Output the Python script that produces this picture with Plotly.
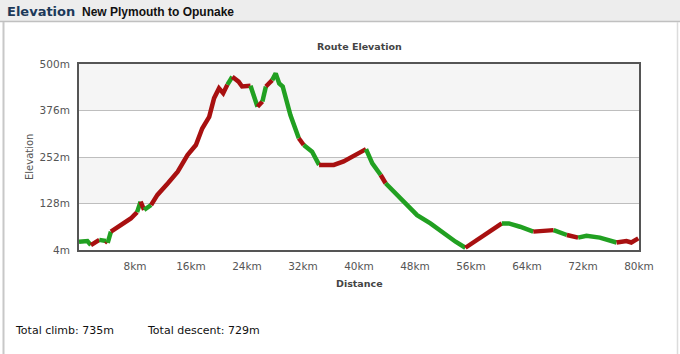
import plotly.graph_objects as go

# ---- data ----
distance_km = [0.0, 1.2, 1.7, 2.9, 3.85, 4.1, 4.56, 6.0, 7.4, 8.3, 8.8, 9.3, 10.3, 11.2,
               12.7, 14.1, 15.5, 16.7, 17.6, 18.6, 19.3, 20.0, 20.6, 21.2, 21.9, 22.8,
               23.3, 24.5, 25.5, 26.2, 26.7, 27.6, 28.1, 28.6, 29.1, 30.2, 31.4, 32.1,
               33.3, 34.3, 36.4, 37.8, 41.0, 41.9, 43.1, 43.8, 45.9, 48.3, 50.2, 52.1,
               53.8, 55.2, 56.9, 58.8, 60.4, 61.4, 63.0, 64.9, 67.8, 69.7, 71.3, 72.5,
               74.4, 76.8, 78.2, 78.9, 79.9]
elevation_m = [26, 28, 17, 31, 28, 23, 53, 71, 88, 105, 133, 111, 124, 151,
               182, 213, 257, 284, 328, 359, 409, 435, 422, 445, 466, 453,
               440, 442, 386, 400, 440, 457, 475, 448, 440, 364, 302, 284,
               266, 231, 231, 240, 273, 235, 204, 182, 142, 97, 75, 48,
               26, 10, 31, 57, 75, 75, 66, 53, 57, 44, 37, 42,
               37, 24, 28, 24, 35]
# trend of each segment (between point i and i+1)
segment_trend = ["G", "G", "R", "G", "R", "G", "R", "R", "R", "G", "R", "G", "R",
                 "R", "R", "R", "R", "R", "R", "R", "R", "R", "R", "G", "R",
                 "R", "R", "G", "R", "G", "R", "G", "G", "G", "G", "G", "R",
                 "G", "G", "R", "R", "R", "G", "G", "R", "G", "G", "G", "G",
                 "G", "G", "R", "R", "R", "G", "G", "G", "R", "G", "R", "G",
                 "G", "G", "R", "R", "R"]
y_ticks = [4, 128, 252, 376, 500]
x_ticks = [8, 16, 24, 32, 40, 48, 56, 64, 72, 80]
total_climb = "735m"
total_descent = "729m"

COLORS = {"R": "#a81010", "G": "#21a021"}

fig = go.Figure()

# group consecutive segments of the same colour
groups = []
start = 0
for i in range(1, len(segment_trend) + 1):
    if i == len(segment_trend) or segment_trend[i] != segment_trend[start]:
        groups.append((start, i, segment_trend[start]))
        start = i
for s, e, c in groups:
    fig.add_trace(go.Scatter(
        x=distance_km[s:e + 1], y=elevation_m[s:e + 1], mode="lines",
        line=dict(color=COLORS[c], width=4.5), hoverinfo="skip", showlegend=False))

# pixel helpers for decorations
L, R, T, B = 79, 639, 64, 250
def px(x):
    return (x - L) / (R - L)
def py(y):
    return (B - y) / (B - T)

shapes = []
# alternating bands
for lo, hi in [(128, 252), (376, 500)]:
    shapes.append(dict(type="rect", xref="paper", yref="y", x0=0, x1=1, y0=lo, y1=hi,
                       fillcolor="#f5f5f5", line_width=0, layer="below"))
# header bar
shapes.append(dict(type="rect", xref="paper", yref="paper", x0=px(0), x1=px(680),
                   y0=py(21), y1=py(0), fillcolor="#ededed", line_width=0, layer="below"))
shapes.append(dict(type="line", xref="paper", yref="paper", x0=px(0), x1=px(680),
                   y0=py(21.5), y1=py(21.5), line=dict(color="#c0c0c0", width=1.5)))
# side borders
shapes.append(dict(type="line", xref="paper", yref="paper", x0=px(3.5), x1=px(3.5),
                   y0=py(22), y1=py(354), line=dict(color="#c8c8c8", width=2)))
shapes.append(dict(type="line", xref="paper", yref="paper", x0=px(677.5), x1=px(677.5),
                   y0=py(22), y1=py(354), line=dict(color="#dcdcdc", width=1.5)))

annotations = [
    dict(text="<b>Elevation</b>", x=px(5), y=py(11), xref="paper", yref="paper",
         xanchor="left", yanchor="middle", showarrow=False,
         font=dict(family="DejaVu Sans", size=13, color="#1d3a5a")),
    dict(text="<b>New Plymouth to Opunake</b>", x=px(80), y=py(12), xref="paper", yref="paper",
         xanchor="left", yanchor="middle", showarrow=False,
         font=dict(family="Liberation Sans", size=12, color="#111111")),
    dict(text="<b>Route Elevation</b>", x=px(359), y=py(46), xref="paper", yref="paper",
         xanchor="center", yanchor="middle", showarrow=False,
         font=dict(family="DejaVu Sans", size=9.5, color="#444444")),
    dict(text="<b>Distance</b>", x=px(359), y=py(283), xref="paper", yref="paper",
         xanchor="center", yanchor="middle", showarrow=False,
         font=dict(family="DejaVu Sans", size=9.5, color="#444444")),
    dict(text="Elevation", x=px(29), y=py(157), xref="paper", yref="paper",
         xanchor="center", yanchor="middle", showarrow=False, textangle=-90,
         font=dict(family="DejaVu Sans", size=10, color="#555555")),
    dict(text="Total climb: " + total_climb, x=px(13), y=py(330), xref="paper", yref="paper",
         xanchor="left", yanchor="middle", showarrow=False,
         font=dict(family="DejaVu Sans", size=11, color="#111111")),
    dict(text="Total descent: " + total_descent, x=px(145), y=py(330), xref="paper", yref="paper",
         xanchor="left", yanchor="middle", showarrow=False,
         font=dict(family="DejaVu Sans", size=11, color="#111111")),
]

fig.update_layout(
    width=680, height=354,
    margin=dict(l=L, r=680 - R, t=T, b=354 - B, pad=0),
    paper_bgcolor="white", plot_bgcolor="white",
    shapes=shapes, annotations=annotations,
    xaxis=dict(range=[0, 80], tickvals=x_ticks, ticktext=[f"{v}km" for v in x_ticks],
               showgrid=False, zeroline=False, showline=True, linecolor="#555555",
               linewidth=2, mirror=True, ticks="", ticklabelstandoff=5,
               tickfont=dict(family="DejaVu Sans", size=10.5, color="#555555")),
    yaxis=dict(range=[4, 500], tickvals=y_ticks, ticktext=[f"{v}m" for v in y_ticks],
               showgrid=True, gridcolor="#bebebe", gridwidth=1, zeroline=False,
               showline=True, linecolor="#555555", linewidth=2, mirror=True, ticks="",
               ticklabelstandoff=5,
               tickfont=dict(family="DejaVu Sans", size=10.5, color="#555555")),
)

fig.write_html("out.html")
